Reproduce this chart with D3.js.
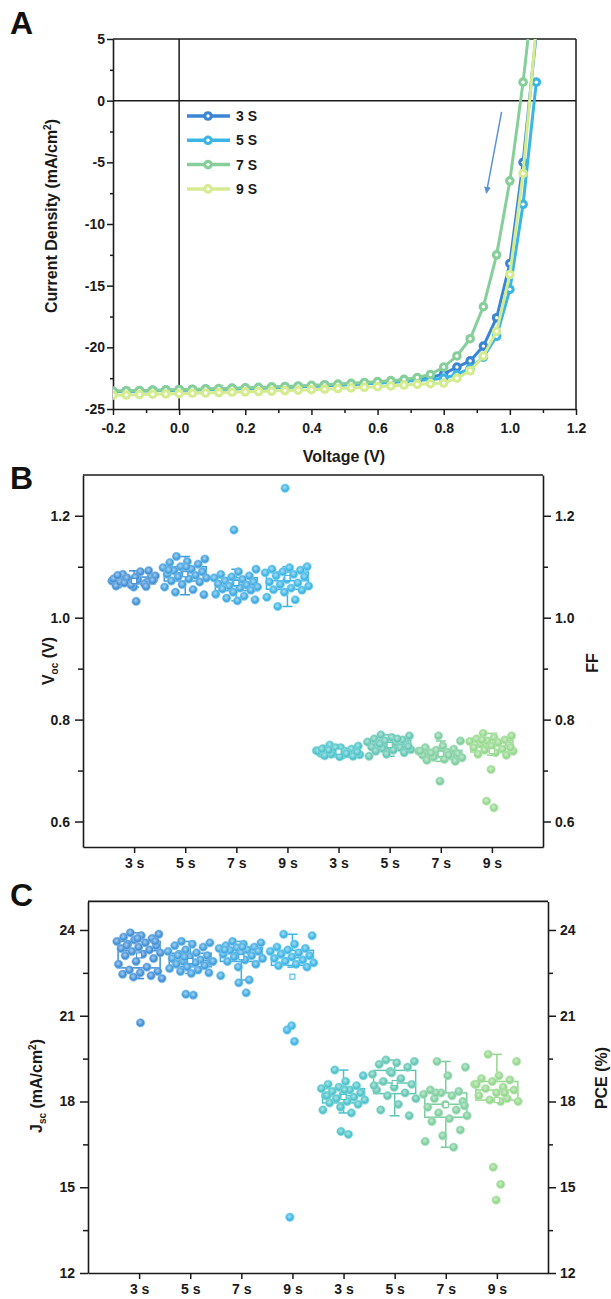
<!DOCTYPE html>
<html>
<head>
<meta charset="utf-8">
<script src="https://cdn.jsdelivr.net/npm/d3@7"></script>
<style>
  body { margin: 0; background: #fff; }
  svg { display: block; font-family: "Liberation Sans", Arial, sans-serif; font-weight: bold; }
</style>
</head>
<body>
<svg id="chart" width="611" height="1299"></svg>
<script>
// ---- panel A : J-V curves ----
const voltage = [-0.2,-0.16,-0.12,-0.08,-0.04,0,0.04,0.08,0.12,0.16,0.2,0.24,0.28,0.32,0.36,0.4,0.44,0.48,0.52,0.56,0.6,0.64,0.68,0.72,0.76,0.8,0.84,0.88,0.92,0.96,1.0,1.04,1.08]
const jv3s = [-23.6,-23.57,-23.55,-23.52,-23.5,-23.47,-23.45,-23.42,-23.4,-23.37,-23.34,-23.31,-23.28,-23.24,-23.2,-23.16,-23.12,-23.07,-23.02,-22.96,-22.9,-22.83,-22.75,-22.62,-22.45,-22.15,-21.6,-21.1,-19.9,-17.6,-13.2,-5.0,5.5]
const jv5s = [-23.58,-23.56,-23.53,-23.51,-23.48,-23.46,-23.43,-23.41,-23.38,-23.35,-23.32,-23.29,-23.26,-23.22,-23.18,-23.14,-23.1,-23.05,-23.0,-22.95,-22.89,-22.83,-22.76,-22.68,-22.6,-22.5,-22.2,-21.7,-20.8,-19.1,-15.3,-8.4,1.5]
const jv7s = [-23.55,-23.52,-23.5,-23.47,-23.45,-23.42,-23.4,-23.37,-23.34,-23.31,-23.28,-23.25,-23.21,-23.17,-23.13,-23.08,-23.03,-22.98,-22.92,-22.85,-22.78,-22.7,-22.6,-22.45,-22.2,-21.6,-20.7,-19.3,-16.7,-12.5,-6.5,1.5,11]
const jv9s = [-23.88,-23.86,-23.83,-23.8,-23.78,-23.75,-23.72,-23.7,-23.67,-23.64,-23.61,-23.58,-23.55,-23.51,-23.47,-23.43,-23.39,-23.34,-23.29,-23.24,-23.19,-23.13,-23.06,-23.0,-22.95,-22.9,-22.5,-21.9,-20.7,-18.7,-14.1,-5.9,6]
const jvNames = ['3 S', '5 S', '7 S', '9 S']
const jvColors = ['#3a86d4', '#3ab5e6', '#86cf9a', '#d4ec8f']
const jvTicksY = [-25, -20, -15, -10, -5, 0, 5]
const jvTicksX = [-0.2, 0, 0.2, 0.4, 0.6, 0.8, 1.0, 1.2]

// ---- panels B & C : statistics ----
const groupLabels = ['3 s', '5 s', '7 s', '9 s', '3 s', '5 s', '7 s', '9 s']
const groupColors = ['#3c8dd6', '#3b9cdd', '#3aa8e1', '#38b4e5', '#47c2c9', '#5fc5b2', '#7bcd9c', '#93d78a']

const voc3s = [1.07,1.075,1.08,1.065,1.07,1.068,1.072,1.09,1.085,1.08,1.06,1.062,1.066,1.078,1.082,1.074,1.07,1.092,1.064,1.076,1.032,1.068,1.073,1.079,1.083,1.061]
const voc5s = [1.12,1.115,1.11,1.108,1.105,1.1,1.098,1.095,1.092,1.09,1.088,1.085,1.083,1.08,1.078,1.076,1.072,1.07,1.065,1.06,1.055,1.05,1.045,1.1,1.093]
const voc7s = [1.172,1.095,1.09,1.085,1.082,1.08,1.078,1.075,1.072,1.07,1.068,1.066,1.064,1.062,1.06,1.058,1.056,1.054,1.05,1.046,1.042,1.038,1.035,1.033]
const voc9s = [1.254,1.1,1.098,1.095,1.093,1.09,1.088,1.085,1.082,1.08,1.075,1.07,1.068,1.065,1.062,1.058,1.055,1.054,1.05,1.04,1.035,1.022]
const ff3s = [0.75,0.748,0.745,0.743,0.742,0.74,0.739,0.738,0.737,0.736,0.735,0.734,0.733,0.732,0.731,0.73,0.729,0.728,0.745,0.738,0.733,0.74,0.736,0.727,0.742]
const ff5s = [0.77,0.768,0.765,0.762,0.76,0.758,0.756,0.755,0.753,0.75,0.748,0.746,0.745,0.743,0.741,0.74,0.738,0.735,0.732,0.728,0.762,0.752,0.747]
const ff7s = [0.768,0.758,0.748,0.745,0.742,0.74,0.738,0.736,0.735,0.733,0.732,0.73,0.728,0.726,0.725,0.722,0.72,0.718,0.679,0.738,0.73,0.734]
const ff9s = [0.773,0.768,0.765,0.762,0.76,0.758,0.757,0.755,0.752,0.75,0.748,0.745,0.742,0.74,0.738,0.735,0.732,0.73,0.702,0.64,0.627,0.76,0.745]

const jsc3s = [23.9,23.85,23.8,23.75,23.7,23.65,23.6,23.55,23.5,23.45,23.4,23.35,23.3,23.25,23.2,23.15,23.1,23.0,22.9,22.8,22.7,22.6,22.55,22.5,22.45,22.4,22.35,22.3,20.75,23.45,23.6,23.7]
const jsc5s = [23.6,23.55,23.5,23.45,23.4,23.3,23.25,23.2,23.15,23.1,23.05,23.0,22.95,22.9,22.88,22.85,22.8,22.75,22.7,22.65,22.6,22.55,22.5,22.48,21.75,21.72,23.05,22.9,22.85,23.1]
const jsc7s = [23.6,23.55,23.5,23.45,23.4,23.38,23.35,23.3,23.28,23.25,23.2,23.15,23.1,23.05,23.0,22.95,22.9,22.8,22.7,22.4,22.25,22.15,21.8,23.4,23.3]
const jsc9s = [23.85,23.8,23.5,23.4,23.35,23.3,23.25,23.2,23.15,23.1,23.05,23.0,22.95,22.9,22.85,22.8,22.75,22.7,20.65,20.5,20.1,13.95]
const pce3s = [19.1,18.9,18.7,18.6,18.55,18.5,18.45,18.4,18.35,18.3,18.25,18.2,18.15,18.1,18.05,18.0,17.95,17.9,17.8,17.7,17.6,16.95,16.85,18.4,18.2]
const pce5s = [19.45,19.4,19.35,19.3,19.2,19.05,18.95,18.8,18.7,18.6,18.5,18.4,18.3,18.2,18.1,17.9,17.7,17.5,19.0,18.55]
const pce7s = [19.4,19.2,18.9,18.4,18.35,18.3,18.25,18.2,18.1,18.0,17.9,17.8,17.7,17.6,17.5,17.4,17.3,17.0,16.8,16.6,16.4,18.3,17.85]
const pce9s = [19.65,19.4,18.9,18.8,18.75,18.7,18.6,18.5,18.45,18.4,18.3,18.2,18.1,18.05,18.0,18.0,15.7,15.1,14.55,18.6,18.3]

const ticksB = [0.6, 0.8, 1.0, 1.2]
const minorB = [0.7, 0.9, 1.1]
const ticksC = [12, 15, 18, 21, 24]
const minorC = [13.5, 16.5, 19.5, 22.5]

const svg = d3.select('#chart')
const defs = svg.append('defs')

function styleAxis(g) {
    g.selectAll('path').attr('stroke', '#1a1a1a').attr('stroke-width', 1.6)
    g.selectAll('line').attr('stroke', '#1a1a1a').attr('stroke-width', 1.5)
    g.selectAll('text').attr('fill', '#1a1a1a').style('font-size', '14px').style('font-weight', 'bold')
        .attr('font-family', '"Liberation Sans", Arial, sans-serif')
}

function panelLetter(t, x, y) {
    svg.append('text').attr('x', x).attr('y', y).text(t)
        .style('font-size', '32px').attr('fill', '#111')
}

// ================= panel A =================
const xA = d3.scaleLinear().domain([-0.2, 1.2]).range([113, 576])
const yA = d3.scaleLinear().domain([-25, 5]).range([409, 39])

panelLetter('A', 10, 34)

defs.append('clipPath').attr('id', 'clipA').append('rect')
    .attr('x', xA(-0.2)).attr('y', yA(5)).attr('width', xA(1.2) - xA(-0.2)).attr('height', yA(-25) - yA(5))

// frame: top, right, and zero lines
const frameA = svg.append('g')
frameA.append('line').attr('x1', xA(-0.2)).attr('x2', xA(1.2)).attr('y1', yA(5)).attr('y2', yA(5))
frameA.append('line').attr('x1', xA(1.2)).attr('x2', xA(1.2)).attr('y1', yA(5)).attr('y2', yA(-25))
frameA.append('line').attr('x1', xA(-0.2)).attr('x2', xA(1.2)).attr('y1', yA(0)).attr('y2', yA(0))
frameA.append('line').attr('x1', xA(0)).attr('x2', xA(0)).attr('y1', yA(5)).attr('y2', yA(-25))
frameA.selectAll('line').attr('stroke', '#1a1a1a').attr('stroke-width', 1.5)

// axes (plain hyphen for negatives, like the original)
svg.append('g').attr('transform', `translate(${xA(-0.2)},0)`)
    .call(d3.axisLeft(yA).tickValues(jvTicksY).tickSize(6).tickPadding(2).tickSizeOuter(0).tickFormat(d => String(d)))
    .call(styleAxis)
svg.append('g').attr('transform', `translate(${xA(-0.2)},0)`)
    .call(d3.axisLeft(yA).tickValues(jvTicksY.slice(0, -1).map(d => d + 2.5)).tickSize(3).tickFormat(''))
    .call(styleAxis).call(g => g.select('path').remove())
svg.append('g').attr('transform', `translate(0,${yA(-25)})`)
    .call(d3.axisBottom(xA).tickValues(jvTicksX).tickSize(6).tickPadding(8).tickSizeOuter(0).tickFormat(d => d.toFixed(1)))
    .call(styleAxis)
svg.append('g').attr('transform', `translate(0,${yA(-25)})`)
    .call(d3.axisBottom(xA).tickValues(jvTicksX.slice(0, -1).map(d => d + 0.1)).tickSize(4).tickFormat(''))
    .call(styleAxis).call(g => g.select('path').remove())

svg.append('text').attr('x', 344).attr('y', 462).attr('text-anchor', 'middle')
    .style('font-size', '16px').attr('fill', '#1a1a1a').text('Voltage (V)')
svg.append('text').attr('transform', 'translate(57,216) rotate(-90)').attr('text-anchor', 'middle')
    .style('font-size', '16px').attr('fill', '#1a1a1a')
    .call(t => {
        t.append('tspan').text('Current Density (mA/cm')
        t.append('tspan').text('2').attr('dy', -6).style('font-size', '10px')
        t.append('tspan').text(')').attr('dy', 6)
    })

// curves
const jvData = [jv3s, jv5s, jv7s, jv9s].map((vals, k) => ({
    name: jvNames[k], color: jvColors[k],
    points: voltage.map((v, i) => ({ v: v, j: vals[i] }))
}))
const line = d3.line().x(d => xA(d.v)).y(d => yA(d.j))
const curves = svg.append('g').attr('clip-path', 'url(#clipA)')
jvData.forEach(s => {
    const g = curves.append('g')
    g.append('path').datum(s.points).attr('d', line)
        .attr('fill', 'none').attr('stroke', s.color).attr('stroke-width', 3)
    g.selectAll('circle.m').data(s.points).join('circle').attr('class', 'm')
        .attr('cx', d => xA(d.v)).attr('cy', d => yA(d.j)).attr('r', 4.8).attr('fill', s.color)
    g.selectAll('circle.w').data(s.points).join('circle').attr('class', 'w')
        .attr('cx', d => xA(d.v)).attr('cy', d => yA(d.j)).attr('r', 1.7).attr('fill', '#fff')
})

// legend
const legend = svg.append('g')
jvData.forEach((s, i) => {
    const y = 116 + i * 24.3
    legend.append('line').attr('x1', 187).attr('x2', 230).attr('y1', y).attr('y2', y)
        .attr('stroke', s.color).attr('stroke-width', 3.5)
    legend.append('circle').attr('cx', 208).attr('cy', y).attr('r', 4.8).attr('fill', s.color)
    legend.append('circle').attr('cx', 208).attr('cy', y).attr('r', 1.7).attr('fill', '#fff')
    legend.append('text').attr('x', 236).attr('y', y + 5).text(s.name)
        .style('font-size', '14px').attr('fill', '#1a1a1a')
})

// arrow
defs.append('marker').attr('id', 'arrowHead').attr('viewBox', '0 0 10 10')
    .attr('refX', 9).attr('refY', 5).attr('markerWidth', 7).attr('markerHeight', 7)
    .attr('orient', 'auto-start-reverse').attr('markerUnits', 'userSpaceOnUse')
    .append('path').attr('d', 'M0,0 L10,5 L0,10 z').attr('fill', '#5b90d6')
svg.append('line').attr('x1', xA(0.975)).attr('y1', yA(-0.9)).attr('x2', xA(0.929)).attr('y2', yA(-7.5))
    .attr('stroke', '#5b90d6').attr('stroke-width', 1.5).attr('marker-end', 'url(#arrowHead)')

// ================= box panels =================
groupColors.forEach((c, i) => {
    const gr = defs.append('radialGradient').attr('id', 'ball' + i)
        .attr('cx', '45%').attr('cy', '40%').attr('r', '60%')
    gr.append('stop').attr('offset', '0%').attr('stop-color', d3.interpolateRgb(c, '#fff')(0.55))
    gr.append('stop').attr('offset', '70%').attr('stop-color', c)
    gr.append('stop').attr('offset', '100%').attr('stop-color', d3.interpolateRgb(c, '#fff')(0.25))
})

function boxPanel(opts) {
    const { x, y, groups, ticks, minor, fmt } = opts
    const [x0, x1] = x.range()
    const [y0, y1] = y.range()
    const g = svg.append('g')

    g.append('line').attr('x1', x0).attr('x2', x1).attr('y1', y1).attr('y2', y1)
        .attr('stroke', '#1a1a1a').attr('stroke-width', 1.6)

    g.append('g').attr('transform', `translate(${x0},0)`)
        .call(d3.axisLeft(y).tickValues(ticks).tickSize(8).tickPadding(5).tickSizeOuter(0).tickFormat(fmt))
        .call(styleAxis)
    g.append('g').attr('transform', `translate(${x0},0)`)
        .call(d3.axisLeft(y).tickValues(minor).tickSize(5).tickFormat(''))
        .call(styleAxis).call(a => a.select('path').remove())
    g.append('g').attr('transform', `translate(${x1},0)`)
        .call(d3.axisRight(y).tickValues(ticks).tickSize(8).tickPadding(4).tickSizeOuter(0).tickFormat(fmt))
        .call(styleAxis)
    g.append('g').attr('transform', `translate(${x1},0)`)
        .call(d3.axisRight(y).tickValues(minor).tickSize(5).tickFormat(''))
        .call(styleAxis).call(a => a.select('path').remove())
    g.append('g').attr('transform', `translate(0,${y0})`)
        .call(d3.axisBottom(x).tickValues(d3.range(1, 9)).tickSize(6).tickPadding(5).tickSizeOuter(0)
            .tickFormat(d => groupLabels[d - 1]))
        .call(styleAxis)

    const boxW = 42
    groups.forEach((vals, i) => {
        const cx = x(i + 1)
        const col = groupColors[i]
        const s = vals.slice().sort(d3.ascending)
        const q1 = d3.quantile(s, 0.25), med = d3.quantile(s, 0.5), q3 = d3.quantile(s, 0.75)
        const iqr = q3 - q1
        const lo = d3.min(s.filter(v => v >= q1 - 1.5 * iqr))
        const hi = d3.max(s.filter(v => v <= q3 + 1.5 * iqr))
        const mean = d3.mean(s)
        const bg = g.append('g').attr('stroke', col).attr('fill', 'none').attr('stroke-width', 1.5)
        bg.append('line').attr('x1', cx).attr('x2', cx).attr('y1', y(q3)).attr('y2', y(hi))
        bg.append('line').attr('x1', cx).attr('x2', cx).attr('y1', y(q1)).attr('y2', y(lo))
        bg.append('line').attr('x1', cx - 5).attr('x2', cx + 5).attr('y1', y(hi)).attr('y2', y(hi))
        bg.append('line').attr('x1', cx - 5).attr('x2', cx + 5).attr('y1', y(lo)).attr('y2', y(lo))
        bg.append('rect').attr('x', cx - boxW / 2).attr('width', boxW)
            .attr('y', y(q3)).attr('height', y(q1) - y(q3))
        bg.append('line').attr('x1', cx - boxW / 2).attr('x2', cx + boxW / 2).attr('y1', y(med)).attr('y2', y(med))

        // spread points across the box (golden-ratio sequence, deterministic);
        // points outside the whiskers stay close to the centre line
        const spread = (d, k) => {
            const u = ((k * 0.618034 + 0.31) % 1) - 0.5
            return (d < lo || d > hi) ? u * 12 : u * 46
        }
        g.append('g').selectAll('circle').data(vals).join('circle')
            .attr('cx', (d, k) => cx + spread(d, k))
            .attr('cy', d => y(d)).attr('r', 4.2)
            .attr('fill', `url(#ball${i})`)
            .attr('stroke', d3.interpolateRgb(col, '#fff')(0.35)).attr('stroke-width', 0.6)

        g.append('rect').attr('x', cx - 2.5).attr('y', y(mean) - 2.5).attr('width', 5).attr('height', 5)
            .attr('fill', '#fff').attr('stroke', col).attr('stroke-width', 1)
    })
    return g
}

function subTitle(x, y, base, sub, rest) {
    svg.append('text').attr('transform', `translate(${x},${y}) rotate(-90)`).attr('text-anchor', 'middle')
        .style('font-size', '16px').attr('fill', '#1a1a1a')
        .call(t => {
            t.append('tspan').text(base)
            t.append('tspan').text(sub).attr('dy', 4).style('font-size', '10px')
            t.append('tspan').text(rest.pre).attr('dy', -4)
            if (rest.sup) {
                t.append('tspan').text(rest.sup).attr('dy', -6).style('font-size', '10px')
                t.append('tspan').text(rest.post).attr('dy', 6)
            }
        })
}

function rightTitle(x, y, txt) {
    svg.append('text').attr('transform', `translate(${x},${y}) rotate(-90)`).attr('text-anchor', 'middle')
        .style('font-size', '16px').attr('fill', '#1a1a1a').text(txt)
}

// ---- panel B ----
panelLetter('B', 10, 489)
const xB = d3.scaleLinear().domain([0, 9]).range([83, 543])
const yB = d3.scaleLinear().domain([0.55, 1.28]).range([847, 475])
boxPanel({ x: xB, y: yB, groups: [voc3s, voc5s, voc7s, voc9s, ff3s, ff5s, ff7s, ff9s],
    ticks: ticksB, minor: minorB, fmt: d => d.toFixed(1) })
subTitle(54, 661, 'V', 'oc', { pre: ' (V)' })
rightTitle(598, 663, 'FF')

// ---- panel C ----
panelLetter('C', 10, 906)
const xC = d3.scaleLinear().domain([0, 9]).range([88, 548])
const yC = d3.scaleLinear().domain([12, 25]).range([1273, 901.4])
boxPanel({ x: xC, y: yC, groups: [jsc3s, jsc5s, jsc7s, jsc9s, pce3s, pce5s, pce7s, pce9s],
    ticks: ticksC, minor: minorC, fmt: d => String(d) })
subTitle(42, 1086, 'J', 'sc', { pre: ' (mA/cm', sup: '2', post: ')' })
rightTitle(607, 1078, 'PCE (%)')
</script>
</body>
</html>
